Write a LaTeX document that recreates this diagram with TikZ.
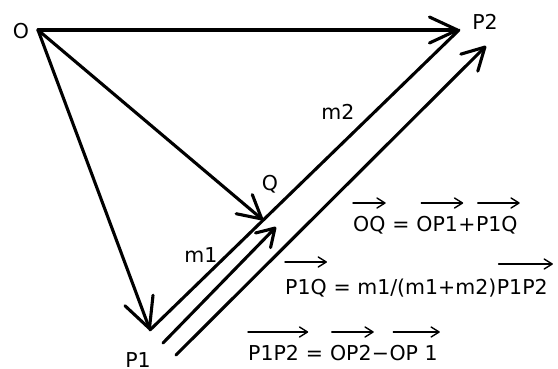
\documentclass[tikz,border=0pt]{standalone}
\usepackage{fontspec}
\setmainfont{DejaVu Sans}
\usetikzlibrary{arrows.meta}
\begin{document}
\begin{tikzpicture}[x=1pt,y=-1pt,
  lbl/.style={font=\fontsize{20.5}{24}\selectfont, inner sep=0pt},
  eq/.style={lbl, anchor=base west},
  bigline/.style={line width=3.1pt, line cap=round, line join=round},
  bigarrow/.style 2 args={bigline, -{Straight Barb[length=#1,width=#2,round]}},
  vecarrow/.style={line width=1.4pt, line cap=round, -{Straight Barb[length=8pt,width=10pt,round]}}]
\useasboundingbox (0,0) rectangle (558,368);
\fill[white] (0,0) rectangle (558,368);

% points
\coordinate (O) at (38,30);
\coordinate (P2) at (459,30);
\coordinate (P1) at (150,330);
\coordinate (Q) at (263,220);
\coordinate (s1) at (163,343);
\coordinate (t1) at (276,227);
\coordinate (s2) at (176,355);
\coordinate (t2) at (486,46);

% main vectors
\draw[bigline] (P1) -- (P2);
\draw[bigarrow={28pt}{26pt}] (O) -- (P2);
\draw[bigarrow={30pt}{30pt}] (O) -- (P1);
\draw[bigarrow={23pt}{25pt}] (O) -- (Q);
\draw[bigarrow={17pt}{21pt}] (s1) -- (t1);
\draw[bigarrow={22pt}{24pt}] (s2) -- (t2);

% labels
\node[lbl] (lO) at (21,31) {O};
\node[lbl] (lP2) at (485,22) {P2};
\node[lbl] (lP1) at (138,360) {P1};
\node[lbl] (lQ) at (270,184) {Q};
\node[lbl] (lm1) at (201,255) {m1};
\node[lbl] (lm2) at (338,112) {m2};

% equation 1
\node[eq] (e1a) at (353,231) {OQ};
\node[eq] (e1b) at (e1a.base east) {\ =\ \mbox{}};
\node[eq] (e1c) at (e1b.base east) {OP1};
\node[eq] (e1d) at (e1c.base east) {+};
\node[eq] (e1e) at (e1d.base east) {P1Q};
\draw[vecarrow] ([yshift=28pt]e1a.base west) -- ([yshift=28pt]e1a.base east);
\draw[vecarrow] ([yshift=28pt,xshift=5pt]e1c.base west) -- ([yshift=28pt,xshift=5pt]e1c.base east);
\draw[vecarrow] ([yshift=28pt,xshift=2pt]e1e.base west) -- ([yshift=28pt,xshift=2pt]e1e.base east);

% equation 2
\node[eq] (e2a) at (285,294) {P1Q};
\node[eq] (e2b) at (e2a.base east) {\ =\ m1/(m1+m2)};
\node[eq] (e2c) at (e2b.base east) {P1P2};
\draw[vecarrow] ([yshift=32pt]e2a.base west) -- ([yshift=32pt]e2a.base east);
\draw[vecarrow] ([yshift=30pt,xshift=2pt]e2c.base west) -- ([yshift=30pt,xshift=5pt]e2c.base east);

% equation 3
\node[eq] (e3a) at (248,360) {P1P2};
\node[eq] (e3b) at (e3a.base east) {\ =\ \mbox{}};
\node[eq] (e3c) at (e3b.base east) {OP2};
\node[eq] (e3d) at (e3c.base east) {−};
\node[eq] (e3e) at (e3d.base east) {OP 1};
\draw[vecarrow] ([yshift=28pt]e3a.base west) -- ([yshift=28pt,xshift=9pt]e3a.base east);
\draw[vecarrow] ([yshift=28pt,xshift=2pt]e3c.base west) -- ([yshift=28pt,xshift=2pt]e3c.base east);
\draw[vecarrow] ([yshift=28pt,xshift=4pt]e3e.base west) -- ([yshift=28pt,xshift=2pt]e3e.base east);
\end{tikzpicture}
\end{document}
